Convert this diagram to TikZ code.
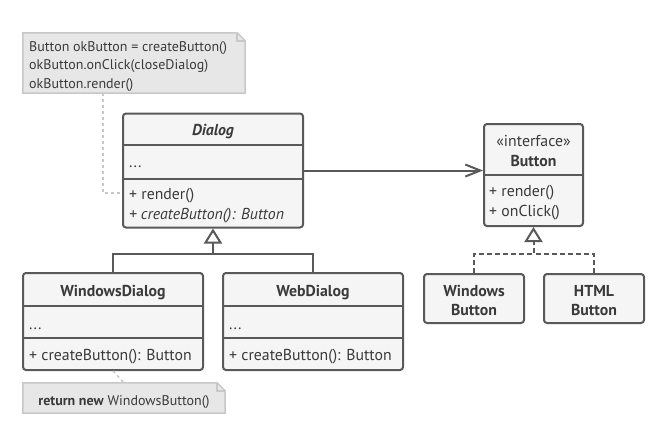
\documentclass[tikz,border=0pt]{standalone}
\usepackage{fontspec}
\setmainfont{PT Sans}
\usetikzlibrary{arrows.meta}
\definecolor{ink}{HTML}{595959}
\definecolor{txt}{HTML}{3A3A3A}
\definecolor{boxfill}{HTML}{F5F5F5}
\definecolor{notefill}{HTML}{E7E7E7}
\definecolor{noteline}{HTML}{C8C8C8}
\newcommand{\classfont}{\fontsize{15.8}{19}\selectfont}
\newcommand{\notefont}{\fontsize{14}{18}\selectfont}
\begin{document}
\begin{tikzpicture}[x=1pt,y=-1pt,
  classbox/.style={draw=ink, fill=boxfill, line width=2pt, rounded corners=3pt, inner sep=0pt},
  sepline/.style={draw=ink, line width=2pt},
  lbl/.style={text=txt, font=\classfont, inner sep=0pt, text height=11pt, text depth=4pt, yshift=-2.5pt},
  ntxt/.style={text=txt, font=\notefont, inner sep=0pt, text height=10pt, text depth=3.5pt, yshift=-2pt},
  notebox/.style={inner sep=0pt},
  noteshape/.style={fill=notefill, draw=noteline, line width=1.5pt, line join=miter},
  notelink/.style={draw=noteline, line width=1.5pt, dash pattern=on 3pt off 3pt},
  assoc/.style={draw=ink, line width=2pt, -{Straight Barb[length=15pt, width=12pt, line width=2pt]}},
  inherit/.style={draw=ink, line width=2pt, -{Triangle[length=15pt, width=18pt, fill=white, line width=2pt]}},
  realize/.style={inherit, dash pattern=on 5pt off 3pt},
  joinline/.style={draw=ink, line width=2pt},
  joinlinedash/.style={joinline, dash pattern=on 5pt off 3pt}
]
\useasboundingbox[fill=white] (0,0) rectangle (665,424);

% ---- note above Dialog ----
\node[notebox, minimum width=222pt, minimum height=60pt] (note1) at (134,63) {};
\draw[noteshape] (note1.north west) -- ([xshift=-8pt]note1.north east) -- ([yshift=-8pt]note1.north east)
  -- (note1.south east) -- (note1.south west) -- cycle;
\draw[draw=noteline, line width=1.5pt] ([xshift=-8pt]note1.north east) -- ([xshift=-8pt,yshift=-8pt]note1.north east) -- ([yshift=-8pt]note1.north east);
\node[ntxt, anchor=west] (n1a) at (29,46) {Button okButton = createButton()};
\node[ntxt, anchor=west] (n1b) at (29,64.5) {okButton.onClick(closeDialog)};
\node[ntxt, anchor=west] (n1c) at (29,83) {okButton.render()};

% ---- Dialog ----
\node[classbox, minimum width=180pt, minimum height=114pt] (dlg) at (213,170.5) {};
\draw[sepline] (dlg.west |- 0,145) -- (dlg.east |- 0,145);
\draw[sepline] (dlg.west |- 0,178.5) -- (dlg.east |- 0,178.5);
\node[lbl, font=\classfont\bfseries\itshape] (dlgT) at (213,129) {Dialog};
\node[lbl, anchor=west] (dlgF) at (129,161.5) {...};
\node[lbl, anchor=west] (dlgM1) at (129,193) {+ render()};
\node[lbl, anchor=west, font=\classfont\itshape] (dlgM2) at (129,213) {+ createButton(): Button};

% ---- Button interface ----
\node[classbox, minimum width=99pt, minimum height=102pt] (btn) at (533.5,175) {};
\draw[sepline] (btn.west |- 0,174.5) -- (btn.east |- 0,174.5);
\node[lbl] (btnS) at (533.5,140) {«interface»};
\node[lbl, font=\classfont\bfseries] (btnT) at (533.5,160.5) {Button};
\node[lbl, anchor=west] (btnM1) at (489,190) {+ render()};
\node[lbl, anchor=west] (btnM2) at (489,210.5) {+ onClick()};

% ---- concrete dialogs ----
\node[classbox, minimum width=180pt, minimum height=97pt] (wd) at (113,321.5) {};
\draw[sepline] (wd.west |- 0,306) -- (wd.east |- 0,306);
\draw[sepline] (wd.west |- 0,338) -- (wd.east |- 0,338);
\node[lbl, font=\classfont\bfseries] (wdT) at (113,290) {WindowsDialog};
\node[lbl, anchor=west] (wdF) at (29,323) {...};
\node[lbl, anchor=west] (wdM) at (29,354.5) {+ createButton(): Button};

\node[classbox, minimum width=180pt, minimum height=97pt] (web) at (313,321.5) {};
\draw[sepline] (web.west |- 0,306) -- (web.east |- 0,306);
\draw[sepline] (web.west |- 0,338) -- (web.east |- 0,338);
\node[lbl, font=\classfont\bfseries] (webT) at (313,290) {WebDialog};
\node[lbl, anchor=west] (webF) at (229,323) {...};
\node[lbl, anchor=west] (webM) at (229,354.5) {+ createButton(): Button};

% ---- concrete buttons ----
\node[classbox, minimum width=100pt, minimum height=49pt, align=center,
  text=txt, font=\classfont\bfseries] (wb) at (474,298.5) {};
\node[lbl, font=\classfont\bfseries] (wbA) at (474,290) {Windows};
\node[lbl, font=\classfont\bfseries] (wbB) at (474,309) {Button};
\node[classbox, minimum width=100pt, minimum height=49pt, align=center,
  text=txt, font=\classfont\bfseries] (hb) at (594,298.5) {};
\node[lbl, font=\classfont\bfseries] (hbA) at (594,290) {HTML};
\node[lbl, font=\classfont\bfseries] (hbB) at (594,309) {Button};

% ---- note below WindowsDialog ----
\node[notebox, minimum width=202pt, minimum height=30pt] (note2) at (124,398) {};
\draw[noteshape] (note2.north west) -- ([xshift=-8pt]note2.north east) -- ([yshift=-8pt]note2.north east)
  -- (note2.south east) -- (note2.south west) -- cycle;
\draw[draw=noteline, line width=1.5pt] ([xshift=-8pt]note2.north east) -- ([xshift=-8pt,yshift=-8pt]note2.north east) -- ([yshift=-8pt]note2.north east);
\node[ntxt] (n2) at (124,400.5) {\textbf{return new} WindowsButton()};

% ---- connectors ----
\coordinate (n1drop) at (103,93);
\coordinate (n1turn) at (103,193);
\draw[notelink] (n1drop) -- (n1turn) -- (dlg.west |- n1turn);
\draw[notelink] (wd.south) -- (note2.north);

\draw[assoc] (dlg.east) -- (dlg.east -| btn.west);

\coordinate (jd) at (213,253.5);
\draw[joinline] (web.north) |- (jd);
\draw[inherit] (wd.north) |- (jd) -- (dlg.south);

\coordinate (jb) at (533.5,254);
\draw[joinlinedash] (hb.north) |- (jb);
\draw[realize] (wb.north) |- (jb) -- (btn.south);
\end{tikzpicture}
\end{document}
